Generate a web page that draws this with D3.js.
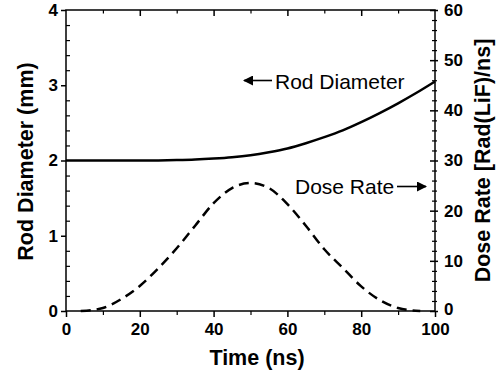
<!DOCTYPE html>
<html>
<head>
<meta charset="utf-8">
<script src="https://cdn.jsdelivr.net/npm/d3@7"></script>
<style>
  html, body { margin: 0; padding: 0; background: #fff; }
  svg { display: block; font-family: "Liberation Sans", Arial, sans-serif; }
</style>
</head>
<body>
<svg id="chart" width="503" height="379"></svg>
<script>
// ---- data ----
const rodTime = [0, 5, 10, 15, 20, 25, 30, 35, 40, 45, 50, 55, 60, 65, 70, 75, 80, 85, 90, 95, 100];
const rodDiameter = [2.000, 2.000, 2.000, 2.000, 2.000, 2.001, 2.005, 2.012, 2.025, 2.043, 2.07, 2.11, 2.16, 2.23, 2.31, 2.40, 2.51, 2.63, 2.76, 2.90, 3.05];
const doseTime = [4, 10, 15, 20, 25, 30, 35, 40, 45, 50, 55, 60, 65, 70, 75, 80, 85, 90, 96];
const doseRate = [0.0, 0.6, 2.4, 5.0, 8.5, 12.5, 17.0, 21.5, 24.5, 25.5, 24.5, 21.3, 17.0, 12.3, 8.6, 4.9, 2.2, 0.6, 0.0];
const xTicks = [0, 20, 40, 60, 80, 100];
const leftTicks = [0, 1, 2, 3, 4];
const rightTicks = [0, 10, 20, 30, 40, 50, 60];
const xLabel = "Time (ns)";
const leftLabel = "Rod Diameter (mm)";
const rightLabel = "Dose Rate [Rad(LiF)/ns]";
const rodNote = "Rod Diameter";
const doseNote = "Dose Rate";

// ---- layout ----
const L = 66, R = 435, T = 10, B = 311;
const svg = d3.select("#chart");
const x = d3.scaleLinear().domain([0, 100]).range([L, R]);
const yL = d3.scaleLinear().domain([0, 4]).range([B, T]);
const yR = d3.scaleLinear().domain([0, 60]).range([B, T]);

const tickFont = "bold 17px 'Liberation Sans', Arial, sans-serif";

// frame
svg.append("rect").attr("x", L).attr("y", T).attr("width", R - L).attr("height", B - T)
  .attr("fill", "none").attr("stroke", "#000").attr("stroke-width", 1.5);

// bottom axis: major ticks outward, minor ticks outward shorter
const gB = svg.append("g").attr("transform", `translate(0,${B})`)
  .call(d3.axisBottom(x).tickValues(xTicks).tickSize(6).tickPadding(6).tickFormat(d3.format("d")));
gB.select(".domain").remove();
gB.selectAll("line").attr("stroke-width", 1.5);
gB.selectAll("text").style("font", tickFont).attr("fill", "#000");
svg.append("g").attr("transform", `translate(0,${B})`)
  .call(d3.axisBottom(x).tickValues(d3.range(10, 100, 20)).tickSize(4).tickFormat(""))
  .call(g => g.select(".domain").remove()).selectAll("line").attr("stroke-width", 1.2);

// top axis: inward ticks
svg.append("g").attr("transform", `translate(0,${T})`)
  .call(d3.axisBottom(x).tickValues(xTicks.slice(1, -1)).tickSize(6).tickFormat(""))
  .call(g => g.select(".domain").remove()).selectAll("line").attr("stroke-width", 1.5);
svg.append("g").attr("transform", `translate(0,${T})`)
  .call(d3.axisBottom(x).tickValues(d3.range(10, 100, 20)).tickSize(3.5).tickFormat(""))
  .call(g => g.select(".domain").remove()).selectAll("line").attr("stroke-width", 1.2);

// left axis: major outward, minor inward
const gL = svg.append("g").attr("transform", `translate(${L},0)`)
  .call(d3.axisLeft(yL).tickValues(leftTicks).tickSize(5).tickPadding(3).tickFormat(d3.format("d")));
gL.select(".domain").remove();
gL.selectAll("line").attr("stroke-width", 1.5);
gL.selectAll("text").style("font", tickFont).attr("fill", "#000");
svg.append("g").attr("transform", `translate(${L},0)`)
  .call(d3.axisRight(yL).tickValues(d3.range(0, 4.01, 0.2).filter(v => Math.abs(v - Math.round(v)) > 1e-6)).tickSize(4).tickFormat(""))
  .call(g => g.select(".domain").remove()).selectAll("line").attr("stroke-width", 1.2);

// right axis: ticks crossing the axis
const gR = svg.append("g").attr("transform", `translate(${R},0)`)
  .call(d3.axisRight(yR).tickValues(rightTicks).tickSize(3).tickPadding(6).tickFormat(d3.format("d")));
gR.select(".domain").remove();
gR.selectAll("line").attr("x1", -5).attr("stroke-width", 1.5);
gR.selectAll("text").style("font", tickFont).attr("fill", "#000");
gR.selectAll(".tick").filter(d => d === 0).select("text").attr("dy", "0.2em");
svg.append("g").attr("transform", `translate(${R},0)`)
  .call(d3.axisRight(yR).tickValues(d3.range(0, 60.01, 2).filter(v => v % 10 !== 0)).tickSize(2).tickFormat(""))
  .call(g => g.select(".domain").remove()).selectAll("line").attr("x1", -3).attr("stroke-width", 1.2);

// rod diameter line
const rodData = rodTime.map((t, i) => [t, rodDiameter[i]]);
svg.append("path").datum(rodData)
  .attr("fill", "none").attr("stroke", "#000").attr("stroke-width", 2.5)
  .attr("d", d3.line().x(d => x(d[0])).y(d => yL(d[1])).curve(d3.curveMonotoneX));

// dose rate dashed line
const doseData = doseTime.map((t, i) => [t, doseRate[i]]);
svg.append("path").datum(doseData)
  .attr("fill", "none").attr("stroke", "#000").attr("stroke-width", 2.5)
  .attr("stroke-dasharray", "10,6")
  .attr("d", d3.line().x(d => x(d[0])).y(d => yR(d[1])).curve(d3.curveMonotoneX));

// annotations with arrows
svg.append("defs").append("marker").attr("id", "ah")
  .attr("viewBox", "0 0 10 10").attr("refX", 9).attr("refY", 5)
  .attr("markerWidth", 10).attr("markerHeight", 10).attr("markerUnits", "userSpaceOnUse")
  .attr("orient", "auto")
  .append("path").attr("d", "M0,0 L10,5 L0,10 Z").attr("fill", "#000");

svg.append("line").attr("x1", 272).attr("y1", 80.5).attr("x2", 244).attr("y2", 80.5)
  .attr("stroke", "#000").attr("stroke-width", 1.6).attr("marker-end", "url(#ah)");
svg.append("text").attr("x", 275).attr("y", 88.5).text(rodNote)
  .style("font", "21px 'Liberation Sans', Arial, sans-serif").attr("fill", "#000");

svg.append("text").attr("x", 295).attr("y", 193.5).text(doseNote)
  .style("font", "21px 'Liberation Sans', Arial, sans-serif").attr("fill", "#000");
svg.append("line").attr("x1", 397).attr("y1", 186.5).attr("x2", 426).attr("y2", 186.5)
  .attr("stroke", "#000").attr("stroke-width", 1.6).attr("marker-end", "url(#ah)");

// axis titles
svg.append("text").attr("x", 257).attr("y", 365).attr("text-anchor", "middle")
  .style("font", "bold 21.5px 'Liberation Sans', Arial, sans-serif").text(xLabel);
svg.append("text").attr("transform", `translate(33,${(T + B) / 2 + 1}) rotate(-90)`)
  .attr("text-anchor", "middle")
  .style("font", "bold 21.5px 'Liberation Sans', Arial, sans-serif").text(leftLabel);
svg.append("text").attr("transform", `translate(490,${(T + B) / 2}) rotate(-90)`)
  .attr("text-anchor", "middle")
  .style("font", "bold 21.5px 'Liberation Sans', Arial, sans-serif").text(rightLabel);
</script>
</body>
</html>
